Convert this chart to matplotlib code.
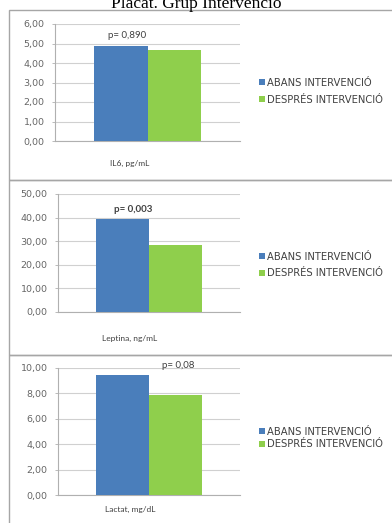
import matplotlib
matplotlib.use("Agg")
import matplotlib.pyplot as plt
from matplotlib.patches import Rectangle

# data
series = ["ABANS INTERVENCIÓ", "DESPRÉS INTERVENCIÓ"]
categories = ["IL6, pg/mL", "Leptina, ng/mL", "Lactat, mg/dL"]
before = [4.86, 39.6, 9.45]
after = [4.68, 28.5, 7.90]
p_labels = ["p= 0,890", "p= 0,003", "p= 0,08"]
y_max = [6, 50, 10]
y_step = [1, 10, 2]

W, H = 392, 523
BLUE = "#4a7ebb"
GREEN = "#8fcf4c"
FONT = ["Lato", "DejaVu Sans"]
WIDE = ["DejaVu Sans"]

# layout in pixels: axes box (left, top, right, bottom)
axes_px = [(55, 24, 240, 141), (58, 194, 240, 312), (58, 368, 240, 495)]
p_pos = [(127, 35, "normal"), (133, 209, "bold"), (178, 366, "normal")]
cat_pos = [(130, 163), (130, 338), (130, 509)]
legend_pos = [(254, 91.5, 0.7), (254, 265, 0.65), (254, 438, 0.22)]
panel_tops = [10, 180, 355, 540]


def fx(x):
    return x / W


def fy(y):
    return 1 - y / H


fig = plt.figure(figsize=(W / 100, H / 100), dpi=100)
fig.patch.set_facecolor("white")

fig.text(fx(196), fy(7.5), "Placat. Grup Intervenció", ha="center", va="baseline",
         fontsize=12.5, family=["Liberation Serif", "DejaVu Serif"], color="black")

# panel frames
for top, bottom in zip(panel_tops[:-1], panel_tops[1:]):
    fig.patches.append(Rectangle((fx(9), fy(bottom)), fx(400 - 9), (bottom - top) / H,
                                 transform=fig.transFigure, fill=False,
                                 edgecolor="#a6a6a6", linewidth=1.0))

width = 0.29
for i in range(3):
    l, t, r, b = axes_px[i]
    ax = fig.add_axes([fx(l), fy(b), (r - l) / W, (b - t) / H])
    ax.set_facecolor("none")
    ax.bar(-width / 2, before[i], width, color=BLUE, label=series[0], zorder=3)
    ax.bar(width / 2, after[i], width, color=GREEN, label=series[1], zorder=3)
    ax.set_xlim(-0.5, 0.5)
    ax.set_ylim(0, y_max[i])
    ticks = list(range(0, y_max[i] + 1, y_step[i]))
    ax.set_yticks(ticks)
    ax.set_yticklabels([f"{v:.2f}".replace(".", ",") for v in ticks],
                       fontsize=6.8, color="#666666", family=WIDE)
    ax.set_xticks([])
    ax.grid(axis="y", color="#d0d0d0", linewidth=0.8, zorder=0)
    for s in ["top", "right"]:
        ax.spines[s].set_visible(False)
    ax.spines["left"].set_color("#b0b0b0")
    ax.spines["bottom"].set_color("#b0b0b0")
    ax.spines["left"].set_linewidth(0.8)
    ax.spines["bottom"].set_linewidth(0.8)
    ax.tick_params(axis="y", length=2.5, width=0.6, color="#b0b0b0", pad=5)

    px, py, weight = p_pos[i]
    fig.text(fx(px), fy(py), p_labels[i], ha="center", va="center",
             fontsize=7, color="#404040", weight=weight, family=FONT)
    cx, cy = cat_pos[i]
    fig.text(fx(cx), fy(cy), categories[i], ha="center", va="center",
             fontsize=6, color="#404040", family=FONT)

    lx, ly, spacing = legend_pos[i]
    ax.legend(loc="center left", bbox_to_anchor=(fx(lx), fy(ly)),
              bbox_transform=fig.transFigure, frameon=False,
              prop={"family": WIDE, "size": 7.2},
              handlelength=0.55, handleheight=0.55, handletextpad=0.25,
              labelspacing=spacing, borderpad=0, labelcolor="#404040")

fig.savefig("out.png", dpi=100, facecolor="white")
